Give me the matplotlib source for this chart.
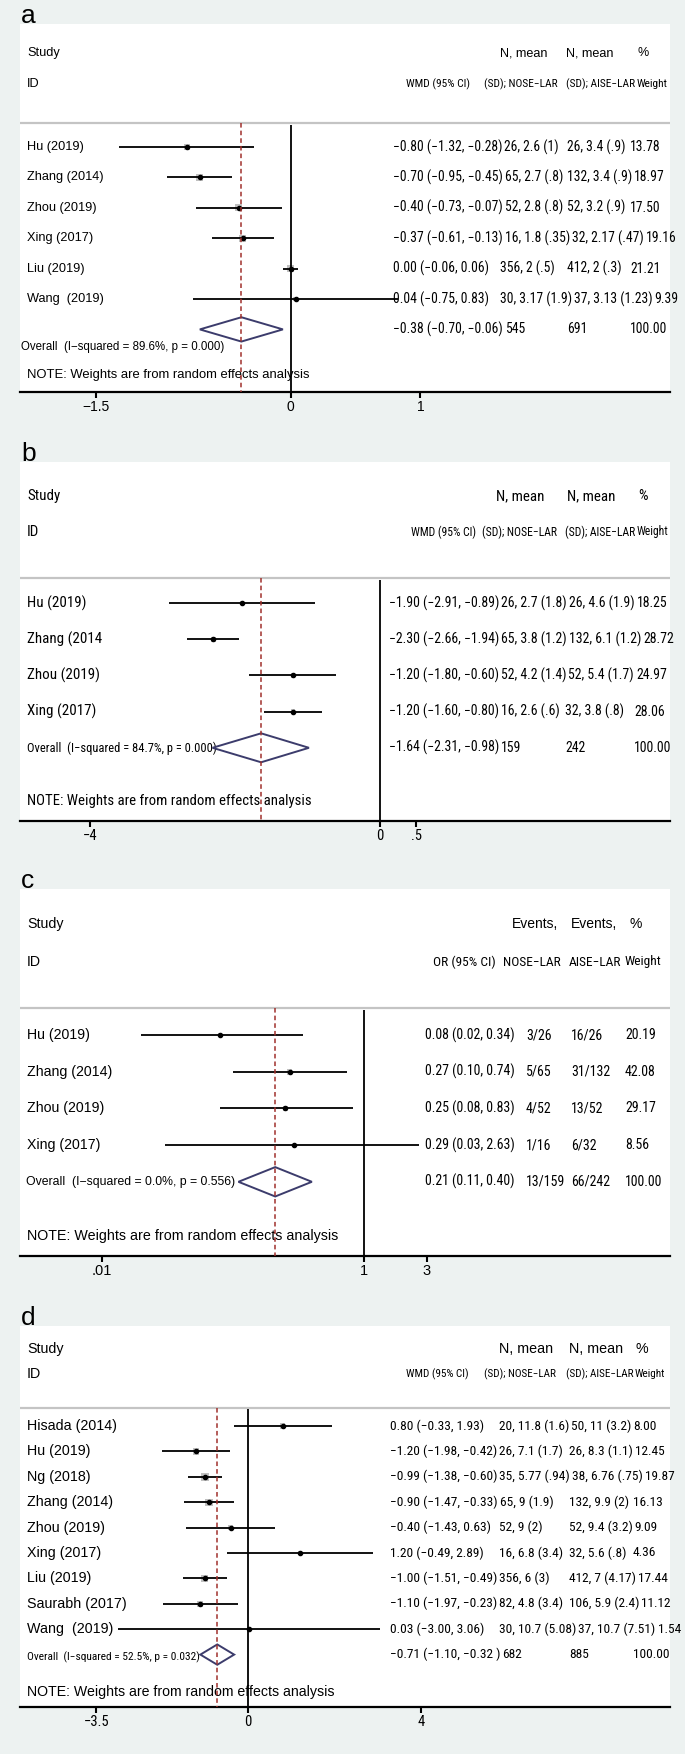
import numpy as np
import matplotlib
matplotlib.use("Agg")
import matplotlib.pyplot as plt
from matplotlib.ticker import NullLocator

BG = "#edf2f1"
NARROW = ["Roboto Condensed", "DejaVu Sans"]
REG = ["Liberation Sans", "DejaVu Sans"]

# ---- panel a : WMD ----
studies_a = ["Hu (2019)", "Zhang (2014)", "Zhou (2019)", "Xing (2017)", "Liu (2019)", "Wang  (2019)"]
est_a = [-0.80, -0.70, -0.40, -0.37, 0.00, 0.04]
lo_a = [-1.32, -0.95, -0.73, -0.61, -0.06, -0.75]
hi_a = [-0.28, -0.45, -0.07, -0.13, 0.06, 0.83]
n1_a = ["26, 2.6 (1)", "65, 2.7 (.8)", "52, 2.8 (.8)", "16, 1.8 (.35)", "356, 2 (.5)", "30, 3.17 (1.9)"]
n2_a = ["26, 3.4 (.9)", "132, 3.4 (.9)", "52, 3.2 (.9)", "32, 2.17 (.47)", "412, 2 (.3)", "37, 3.13 (1.23)"]
w_a = [13.78, 18.97, 17.50, 19.16, 21.21, 9.39]
overall_a = [-0.38, -0.70, -0.06]
tot_a = ["545", "691"]
het_a = "Overall  (I\u2212squared = 89.6%, p = 0.000)"
ticks_a = [-1.5, 0, 1]
ticklab_a = ["\u22121.5", "0", "1"]

# ---- panel b : WMD ----
studies_b = ["Hu (2019)", "Zhang (2014", "Zhou (2019)", "Xing (2017)"]
est_b = [-1.90, -2.30, -1.20, -1.20]
lo_b = [-2.91, -2.66, -1.80, -1.60]
hi_b = [-0.89, -1.94, -0.60, -0.80]
n1_b = ["26, 2.7 (1.8)", "65, 3.8 (1.2)", "52, 4.2 (1.4)", "16, 2.6 (.6)"]
n2_b = ["26, 4.6 (1.9)", "132, 6.1 (1.2)", "52, 5.4 (1.7)", "32, 3.8 (.8)"]
w_b = [18.25, 28.72, 24.97, 28.06]
overall_b = [-1.64, -2.31, -0.98]
tot_b = ["159", "242"]
het_b = "Overall  (I\u2212squared = 84.7%, p = 0.000)"
ticks_b = [-4, 0, 0.5]
ticklab_b = ["\u22124", "0", ".5"]

# ---- panel c : OR ----
studies_c = ["Hu (2019)", "Zhang (2014)", "Zhou (2019)", "Xing (2017)"]
est_c = [0.08, 0.27, 0.25, 0.29]
lo_c = [0.02, 0.10, 0.08, 0.03]
hi_c = [0.34, 0.74, 0.83, 2.63]
n1_c = ["3/26", "5/65", "4/52", "1/16"]
n2_c = ["16/26", "31/132", "13/52", "6/32"]
w_c = [20.19, 42.08, 29.17, 8.56]
overall_c = [0.21, 0.11, 0.40]
tot_c = ["13/159", "66/242"]
het_c = "Overall  (I\u2212squared = 0.0%, p = 0.556)"
ticks_c = [0.01, 1, 3]
ticklab_c = [".01", "1", "3"]

# ---- panel d : WMD ----
studies_d = ["Hisada (2014)", "Hu (2019)", "Ng (2018)", "Zhang (2014)", "Zhou (2019)",
             "Xing (2017)", "Liu (2019)", "Saurabh (2017)", "Wang  (2019)"]
est_d = [0.80, -1.20, -0.99, -0.90, -0.40, 1.20, -1.00, -1.10, 0.03]
lo_d = [-0.33, -1.98, -1.38, -1.47, -1.43, -0.49, -1.51, -1.97, -3.00]
hi_d = [1.93, -0.42, -0.60, -0.33, 0.63, 2.89, -0.49, -0.23, 3.06]
n1_d = ["20, 11.8 (1.6)", "26, 7.1 (1.7)", "35, 5.77 (.94)", "65, 9 (1.9)", "52, 9 (2)",
        "16, 6.8 (3.4)", "356, 6 (3)", "82, 4.8 (3.4)", "30, 10.7 (5.08)"]
n2_d = ["50, 11 (3.2)", "26, 8.3 (1.1)", "38, 6.76 (.75)", "132, 9.9 (2)", "52, 9.4 (3.2)",
        "32, 5.6 (.8)", "412, 7 (4.17)", "106, 5.9 (2.4)", "37, 10.7 (7.51)"]
w_d = [8.00, 12.45, 19.87, 16.13, 9.09, 4.36, 17.44, 11.12, 1.54]
overall_d = [-0.71, -1.10, -0.32]
tot_d = ["682", "885"]
het_d = "Overall  (I\u2212squared = 52.5%, p = 0.032)"
ticks_d = [-3.5, 0, 4]
ticklab_d = ["\u22123.5", "0", "4"]

hdr_wmd = ["N, mean", "N, mean", "%"], ["WMD (95% CI)", "(SD); NOSE\u2212LAR", "(SD); AISE\u2212LAR", "Weight"]
hdr_or = ["Events,", "Events,", "%"], ["OR (95% CI)", "NOSE\u2212LAR", "AISE\u2212LAR", "Weight"]
note = "NOTE: Weights are from random effects analysis"

W, H = 685, 1754
LEFT, RIGHT = 20, 670
fig = plt.figure(figsize=(W / 100, H / 100), dpi=100, facecolor=BG)
rend = fig.canvas.get_renderer()


def num(v):
    return f"{v:.2f}".replace("-", "\u2212")


def text_row(ax, T, fx, y, strings, xs, size, gap=2):
    # columns are left aligned; a long entry pushes the next one to the right
    end = 0
    for s, x in zip(strings, xs):
        x = max(x, end + gap)
        t = ax.text(fx(x), y, s, transform=T, va="center", fontfamily=NARROW, fontsize=size)
        end = t.get_window_extent(renderer=rend).x1


def forest(letter, studies, est, lo, hi, n1, n2, w, overall, tot, het, ticks, ticklab, hdr, L):
    top, bot, row0, step = L["top"], L["axis"], L["row0"], L["step"]
    ax = fig.add_axes([LEFT / W, 1 - bot / H, (RIGHT - LEFT) / W, (bot - top) / H])
    ax.set_facecolor("white")
    py = lambda p: (p - row0) / step
    fx = lambda p: (p - LEFT) / (RIGHT - LEFT)
    ytop, ybot = py(top), py(bot)
    ax.set_ylim(ybot, ytop)
    z, sc = L["zero"], L["scale"]
    if L.get("log"):
        ax.set_xscale("log")
        ax.set_xlim(10 ** ((LEFT - z) / sc), 10 ** ((RIGHT - z) / sc))
        null = 1
    else:
        ax.set_xlim((LEFT - z) / sc, (RIGHT - z) / sc)
        null = 0
    for s in ["left", "right", "top"]:
        ax.spines[s].set_visible(False)
    ax.spines["bottom"].set_linewidth(1.6)
    ax.set_yticks([])
    ax.set_xticks(ticks)
    ax.xaxis.set_minor_locator(NullLocator())
    ax.set_xticklabels(ticklab, fontfamily=L["tickfont"], fontsize=L["ticksize"])
    ax.tick_params(axis="x", length=4, width=1.5, pad=2)

    T = ax.get_yaxis_transform()
    rows = np.arange(len(studies))
    sep = py(L["sep"])
    ax.axhline(sep, color="#c4c4c4", lw=1.6)
    ax.vlines(null, sep + 0.05, ybot, color="black", lw=1.3, zorder=3)
    ax.vlines(overall[0], sep, ybot, color="#a0302c", lw=1.1, linestyles=(0, (3, 2)), zorder=6)

    side = L["box"] * np.sqrt(np.array(w)) * 0.72
    ax.scatter(est, rows, marker="s", s=side ** 2, color="#c0c0c0", linewidths=0, zorder=2)
    ax.hlines(rows, lo, hi, color="black", lw=1.3, zorder=3)
    ax.plot(est, rows, "o", ms=3.0, color="black", zorder=4)
    r = len(studies)
    e, l, h = overall
    ax.fill([l, e, h, e, l], [r, r - 0.4, r, r + 0.4, r], facecolor="none",
            edgecolor="#3c3c6c", lw=1.4, zorder=5)

    lf, lsz = L["labfont"], L["labsize"]
    ax.text(fx(27), py(L["study"]), "Study", transform=T, va="center", fontfamily=lf, fontsize=lsz)
    ax.text(fx(27), py(L["id"]), "ID", transform=T, va="center", fontfamily=lf, fontsize=lsz)
    for i, s in enumerate(studies):
        ax.text(fx(27), i, s, transform=T, va="center", fontfamily=lf, fontsize=lsz)
    ax.text(fx(L["hetx"]), py(L["hety"]), het, transform=T, va="center",
            fontfamily=L["hetfont"], fontsize=L["hetsize"])
    ax.text(fx(27), py(L["note"]), note, transform=T, va="center",
            fontfamily=L["notefont"], fontsize=L["notesize"])

    cols, nsz = L["cols"], L["numsize"]
    for i in range(len(studies)):
        eff = f"{num(est[i])} ({num(lo[i])}, {num(hi[i])})"
        text_row(ax, T, fx, i, [eff, n1[i], n2[i], f"{w[i]:.2f}"], cols, nsz)
    ov = L.get("ovfmt", "{} ({}, {})").format(num(e), num(l), num(h))
    text_row(ax, T, fx, r, [ov, tot[0], tot[1], "100.00"], cols, nsz)

    h1, h2 = hdr
    for s, x in zip(h1, L["h1x"]):
        ax.text(fx(x), py(L["study"]), s, transform=T, va="center",
                fontfamily=L["h1font"], fontsize=L["h1size"])
    text_row(ax, T, fx, py(L["id"]), h2, L["h2x"], L["h2size"], gap=1)

    fig.text(21 / W, 1 - (top - 1) / H, letter, fontfamily=REG, fontsize=19, va="baseline")


lay_a = dict(top=24, axis=392, row0=147, step=30.4, sep=123, study=53, id=84, note=375,
             hetx=21, hety=347, zero=290.7, scale=129.8, box=1.6,
             labfont=REG, labsize=9.2, hetfont=REG, hetsize=8.3, notefont=REG, notesize=9.4,
             numsize=9.8, cols=(393, 500, 567, 630), h1x=(500, 566, 638), h1font=REG, h1size=9.1,
             h2x=(406, 484, 566, 634), h2size=8.2, tickfont=REG, ticksize=10)
lay_b = dict(top=462, axis=821, row0=603, step=36.2, sep=578, study=496, id=532, note=801,
             hetx=27, hety=748, zero=380, scale=72.5, box=0.9,
             labfont=NARROW, labsize=10.8, hetfont=NARROW, hetsize=9.0, notefont=NARROW, notesize=10.6,
             numsize=9.9, cols=(389, 496, 565, 634), h1x=(496, 567, 638), h1font=NARROW, h1size=10.8,
             h2x=(411, 482, 565, 636), h2size=8.4, tickfont=NARROW, ticksize=10.5)
lay_c = dict(top=889, axis=1256, row0=1035, step=36.7, sep=1008, study=924, id=962, note=1236,
             hetx=26, hety=1182, zero=364, scale=131, log=True, box=0.9,
             labfont=REG, labsize=10.2, hetfont=REG, hetsize=8.8, notefont=REG, notesize=10.3,
             numsize=10, cols=(425, 526, 571, 625), h1x=(512, 571, 630), h1font=REG, h1size=10,
             h2x=(433, 503, 569, 625), h2size=9.6, tickfont=REG, ticksize=10.5)
lay_d = dict(top=1326, axis=1707, row0=1426, step=25.4, sep=1408, study=1349, id=1374, note=1692,
             hetx=27, hety=1657, zero=248, scale=43.3, box=1.8,
             labfont=REG, labsize=10.3, hetfont=NARROW, hetsize=8.2, notefont=REG, notesize=10.2,
             numsize=9.6, cols=(390, 499, 569, 633), h1x=(499, 569, 636), h1font=REG, h1size=10.3,
             h2x=(406, 484, 566, 630), h2size=8.0, tickfont=NARROW, ticksize=10.5,
             ovfmt="{} ({}, {} )")

forest("a", studies_a, est_a, lo_a, hi_a, n1_a, n2_a, w_a, overall_a, tot_a, het_a, ticks_a, ticklab_a, hdr_wmd, lay_a)
forest("b", studies_b, est_b, lo_b, hi_b, n1_b, n2_b, w_b, overall_b, tot_b, het_b, ticks_b, ticklab_b, hdr_wmd, lay_b)
forest("c", studies_c, est_c, lo_c, hi_c, n1_c, n2_c, w_c, overall_c, tot_c, het_c, ticks_c, ticklab_c, hdr_or, lay_c)
forest("d", studies_d, est_d, lo_d, hi_d, n1_d, n2_d, w_d, overall_d, tot_d, het_d, ticks_d, ticklab_d, hdr_wmd, lay_d)

fig.savefig("out.png", dpi=100, facecolor=BG)
